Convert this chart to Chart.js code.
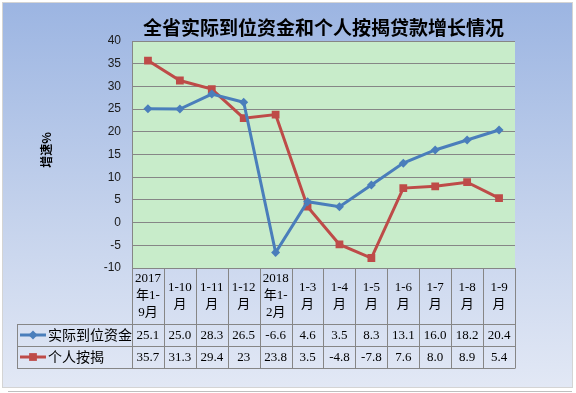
<!DOCTYPE html>
<html>
<head>
<meta charset="utf-8">
<script src="https://cdn.jsdelivr.net/npm/chart.js@4.4.1/dist/chart.umd.min.js"></script>
<style>
  html, body { margin: 0; padding: 0; background: #ffffff; }
  #wrap { width: 576px; height: 393px; position: relative; }
</style>
</head>
<body>
<div id="wrap"><canvas id="chart"></canvas></div>
<script>
// 类别（表格第一行，多行显示）
const categories = [
    ["2017", "年1-", "9月"], ["1-10", "月"], ["1-11", "月"], ["1-12", "月"],
    ["2018", "年1-", "2月"], ["1-3", "月"], ["1-4", "月"], ["1-5", "月"],
    ["1-6", "月"], ["1-7", "月"], ["1-8", "月"], ["1-9", "月"]
];

// 实际到位资金 增速%
const fundsValues = [25.1, 25.0, 28.3, 26.5, -6.6, 4.6, 3.5, 8.3, 13.1, 16.0, 18.2, 20.4];
const fundsText = ["25.1", "25.0", "28.3", "26.5", "-6.6", "4.6", "3.5", "8.3", "13.1", "16.0", "18.2", "20.4"];

// 个人按揭 增速%
const mortgageValues = [35.7, 31.3, 29.4, 23, 23.8, 3.5, -4.8, -7.8, 7.6, 8.0, 8.9, 5.4];
const mortgageText = ["35.7", "31.3", "29.4", "23", "23.8", "3.5", "-4.8", "-7.8", "7.6", "8.0", "8.9", "5.4"];

const seriesNames = ["实际到位资金", "个人按揭"];
const chartTitle = "全省实际到位资金和个人按揭贷款增长情况";
const yTitle = "增速%";

const BLUE = "#4a7ebb";
const RED = "#be4b48";
const GRID = "#868686";
const CJK = '"Noto Sans CJK SC"';

// 表格行位置
const catBottom = 324;
const row1Bottom = 346;
const row2Bottom = 368;
const legendLeft = 17;

// 背景、标题、绘图区
const backgroundPlugin = {
    id: "background",
    beforeDraw(chart) {
        const ctx = chart.ctx;
        const area = chart.chartArea;
        ctx.save();
        const g = ctx.createLinearGradient(0, 3, 0, 387);
        g.addColorStop(0, "#9cb5e2");
        g.addColorStop(0.55, "#c4d2ec");
        g.addColorStop(1, "#e2e8f5");
        ctx.fillStyle = g;
        ctx.fillRect(3, 3, 569, 384);
        ctx.strokeStyle = "#d4d4d4";
        ctx.lineWidth = 1;
        ctx.strokeRect(2.5, 2.5, 570, 385);
        ctx.strokeStyle = "#bfbfbf";
        ctx.beginPath();
        ctx.moveTo(8, 391.5);
        ctx.lineTo(572, 391.5);
        ctx.stroke();

        // 绘图区
        ctx.fillStyle = "#c8ecca";
        ctx.fillRect(area.left, area.top, area.right - area.left, area.bottom - area.top);

        // 标题
        ctx.fillStyle = "#000000";
        ctx.font = "bold 19px " + CJK;
        ctx.textAlign = "center";
        ctx.textBaseline = "middle";
        ctx.fillText(chartTitle, (area.left + area.right) / 2, 28);

        // 纵轴标题
        ctx.translate(46, 150);
        ctx.rotate(-Math.PI / 2);
        ctx.font = "bold 12px " + CJK;
        ctx.fillText(yTitle, 0, 0);
        ctx.restore();
    }
};

// 数据表
const tablePlugin = {
    id: "dataTable",
    afterDraw(chart) {
        const ctx = chart.ctx;
        const area = chart.chartArea;
        const x = chart.scales.x;
        const step = x.getPixelForValue(1) - x.getPixelForValue(0);
        const left = x.getPixelForValue(0) - step / 2;
        ctx.save();
        ctx.strokeStyle = GRID;
        ctx.lineWidth = 1;
        ctx.beginPath();
        for (let i = 0; i <= categories.length; i++) {
            const px = Math.round(left + i * step) + 0.5;
            ctx.moveTo(px, area.bottom);
            ctx.lineTo(px, row2Bottom);
        }
        [catBottom, row1Bottom, row2Bottom].forEach(y => {
            ctx.moveTo(legendLeft, y + 0.5);
            ctx.lineTo(Math.round(area.right) + 0.5, y + 0.5);
        });
        ctx.moveTo(legendLeft + 0.5, catBottom);
        ctx.lineTo(legendLeft + 0.5, row2Bottom);
        ctx.stroke();

        ctx.fillStyle = "#000000";
        ctx.textAlign = "center";
        ctx.textBaseline = "middle";
        ctx.font = '13px "Liberation Serif", ' + CJK;
        const catMid = (area.bottom + catBottom) / 2;
        categories.forEach((lines, i) => {
            const cx = x.getPixelForValue(i);
            lines.forEach((t, j) => {
                ctx.fillText(t, cx, catMid + (j - (lines.length - 1) / 2) * 17);
            });
        });
        const r1 = (catBottom + row1Bottom) / 2 + 1;
        const r2 = (row1Bottom + row2Bottom) / 2 + 1;
        fundsText.forEach((t, i) => ctx.fillText(t, x.getPixelForValue(i), r1));
        mortgageText.forEach((t, i) => ctx.fillText(t, x.getPixelForValue(i), r2));

        // 图例
        [[r1, BLUE, "rectRot", 4.5], [r2, RED, "rect", 5.5]].forEach((it, k) => {
            const y = it[0] - 1;
            ctx.strokeStyle = it[1];
            ctx.lineWidth = 3;
            ctx.beginPath();
            ctx.moveTo(20, y);
            ctx.lineTo(46, y);
            ctx.stroke();
            ctx.fillStyle = it[1];
            Chart.helpers.drawPoint(ctx, { pointStyle: it[2], radius: it[3], borderWidth: 0 }, 33, y);
            ctx.fillStyle = "#000000";
            ctx.textAlign = "left";
            ctx.font = "14px " + CJK;
            ctx.fillText(seriesNames[k], 48, y);
        });
        ctx.restore();
    }
};

const ctx = document.getElementById("chart").getContext("2d");
new Chart(ctx, {
    type: "line",
    data: {
        labels: categories.map(c => c.join("")),
        datasets: [{
            label: seriesNames[0],
            data: fundsValues,
            borderColor: BLUE,
            backgroundColor: BLUE,
            borderWidth: 3,
            pointStyle: "rectRot",
            pointRadius: 4.5,
            pointBorderWidth: 0,
            pointBackgroundColor: BLUE,
            tension: 0,
            fill: false
        }, {
            label: seriesNames[1],
            data: mortgageValues,
            borderColor: RED,
            backgroundColor: RED,
            borderWidth: 3,
            pointStyle: "rect",
            pointRadius: 5.5,
            pointBorderWidth: 0,
            pointBackgroundColor: RED,
            tension: 0,
            fill: false
        }]
    },
    options: {
        responsive: true,
        maintainAspectRatio: false,
        animation: false,
        devicePixelRatio: 1,
        layout: { padding: { top: 41, right: 61, bottom: 125, left: 0 } },
        plugins: {
            legend: { display: false },
            title: { display: false },
            tooltip: { enabled: false }
        },
        scales: {
            x: {
                display: false,
                offset: true
            },
            y: {
                min: -10,
                max: 40,
                afterFit: s => { s.width = 132; },
                ticks: {
                    stepSize: 5,
                    padding: 11,
                    color: "#1a1a1a",
                    font: { family: '"Liberation Sans"', size: 12 }
                },
                grid: { color: GRID, drawTicks: false },
                border: { color: GRID }
            }
        }
    },
    plugins: [backgroundPlugin, tablePlugin]
});
</script>
</body>
</html>
